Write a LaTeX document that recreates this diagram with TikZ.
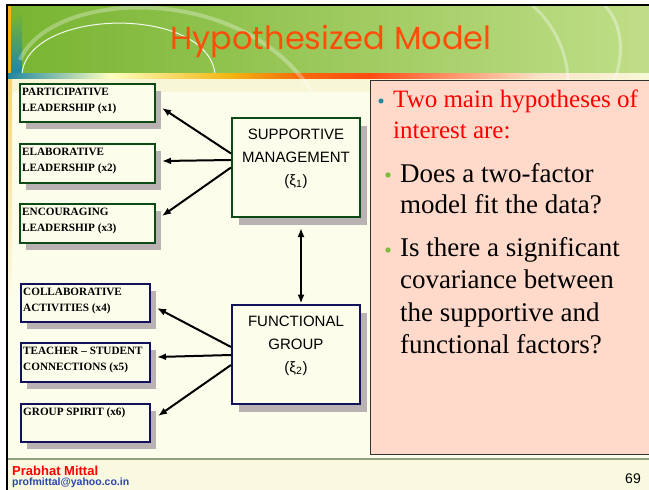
\documentclass[tikz,border=0pt]{standalone}
\usepackage{fontspec}
\setmainfont{Liberation Serif}
\newfontfamily\titlefont{Poppins}
\newfontfamily\sansfont{Liberation Sans}
\usetikzlibrary{arrows.meta,shadows}
\definecolor{bgcream}{HTML}{FDFDEB}
\definecolor{bandcream}{HTML}{F7F7D8}
\definecolor{titleL}{HTML}{78B431}
\definecolor{titleR}{HTML}{C0DE88}
\definecolor{tealc}{HTML}{2088A0}
\definecolor{goldc}{HTML}{F2B512}
\definecolor{orangec}{HTML}{F56A0C}
\definecolor{redc}{HTML}{FF4A14}
\definecolor{peachc}{HTML}{FBE3C8}
\definecolor{titlered}{HTML}{FF4E0A}
\definecolor{supgreen}{HTML}{0E4A16}
\definecolor{funnavy}{HTML}{12125A}
\definecolor{shadowc}{HTML}{BAB2B2}
\definecolor{pinkc}{HTML}{FFDACB}
\definecolor{bulgreen}{HTML}{7DBD3C}
\definecolor{mailblue}{HTML}{2B45A8}
\definecolor{footline}{HTML}{8FA37A}
\begin{document}
\begin{tikzpicture}[x=1pt,y=-1pt,>={Latex[length=9pt,width=7pt]},
  ind/.style={draw=#1, line width=2pt, fill=bgcream, anchor=north west, drop shadow={shadow xshift=6pt, shadow yshift=-7pt, fill=shadowc, opacity=1}},
  indtext/.style={anchor=north west, align=left, inner sep=3pt, yshift=-2pt, font=\fontsize{11.2}{16}\selectfont\bfseries},
  latent/.style={draw=#1, line width=2pt, fill=bgcream, minimum width=128pt, minimum height=99pt, drop shadow={shadow xshift=7pt, shadow yshift=-8pt, fill=shadowc, opacity=1}},
  lattext/.style={anchor=north, align=center, yshift=-12pt, inner sep=0pt, font=\sansfont\fontsize{15}{23}\selectfont},
  loading/.style={->, line width=2pt},
  para/.style={anchor=north west, align=left, inner sep=0pt}]
\useasboundingbox (0,0) rectangle (649,490);
\fill[white] (0,0) rectangle (649,490);
\fill[bgcream] (8,6) rectangle (649,490);
\fill[bandcream] (8,78) rectangle (649,92);
\shade[left color=titleL, right color=titleR] (8,6) rectangle (649,73);
\shade[top color=titleL, bottom color=tealc] (11,13) rectangle (22,73);
\fill[goldc] (8,6) rectangle (11,73);
\shade[top color=goldc!60, bottom color=bgcream] (8,78) rectangle (12,300);
\shade[left color=tealc, right color=yellow!25] (8,73) rectangle (110,78);
\shade[left color=yellow!25, right color=goldc] (110,73) rectangle (230,78);
\shade[left color=goldc, right color=orangec] (230,73) rectangle (300,78);
\shade[left color=orangec, right color=redc] (300,73) rectangle (370,78);
\shade[left color=redc, right color=peachc] (370,73) rectangle (540,78);
\shade[left color=peachc, right color=bandcream] (540,73) rectangle (649,78);
\draw[white, line width=1pt, opacity=.9] (22,73) .. controls (30,8) and (205,5) .. (215,73);
\draw[white, line width=4pt, opacity=.3] (20,60) .. controls (50,-10) and (240,-20) .. (312,92);
\draw[white, line width=3pt, opacity=.35] (533,6) .. controls (555,25) and (568,55) .. (568,82);
\draw[white, line width=3pt, opacity=.35] (605,6) .. controls (624,25) and (624,60) .. (613,82);
\fill[bandcream!60!bgcream] (8,459) rectangle (649,490);
\draw[footline, line width=1.5pt] (8,459) -- (649,459);
\draw[black, line width=2pt] (7,490) -- (7,5) -- (649,5);

\node[text=titlered, font=\titlefont\fontsize{32}{36}\selectfont] (title) at (331,41) {Hypothesized Model};

\node[draw=black!80, line width=.8pt, fill=pinkc, anchor=north west, minimum width=290pt, minimum height=374pt, inner sep=0pt] (hyp) at (370,80) {};
\fill[tealc] (381,101) circle (2.5pt);
\fill[bulgreen] (388,175) circle (2.7pt);
\fill[bulgreen] (388,250) circle (2.7pt);
\node[para, text=red, font=\fontsize{25}{31}\selectfont] (q0) at (393,90) {Two main hypotheses of\\interest are:};
\node[para, font=\fontsize{27}{31.5}\selectfont] (q1) at (400,163) {Does a two-factor\\model fit the data?};
\node[para, font=\fontsize{27}{32.5}\selectfont] (q2) at (400,237) {Is there a significant\\covariance between\\the supportive and\\functional factors?};

\node[ind=supgreen, minimum width=135pt, minimum height=38pt, label={[indtext]north west:PARTICIPATIVE\\LEADERSHIP (x1)}] (x1) at (19,83) {};
\node[ind=supgreen, minimum width=135pt, minimum height=39pt, label={[indtext]north west:ELABORATIVE\\LEADERSHIP (x2)}] (x2) at (19,143) {};
\node[ind=supgreen, minimum width=135pt, minimum height=39pt, label={[indtext]north west:ENCOURAGING\\LEADERSHIP (x3)}] (x3) at (19,203) {};
\node[ind=funnavy, minimum width=129pt, minimum height=38pt, label={[indtext]north west:COLLABORATIVE\\ACTIVITIES (x4)}] (x4) at (20,283) {};
\node[ind=funnavy, minimum width=129pt, minimum height=39pt, label={[indtext]north west:TEACHER -- STUDENT\\CONNECTIONS (x5)}] (x5) at (20,342) {};
\node[ind=funnavy, minimum width=129pt, minimum height=38pt, label={[indtext]north west:GROUP SPIRIT (x6)}] (x6) at (20,403) {};

\node[latent=supgreen, label={[lattext]north:SUPPORTIVE\\MANAGEMENT\\(ξ\textsubscript{1})}] (sm) at (296,167.5) {};
\node[latent=funnavy, label={[lattext]north:FUNCTIONAL\\GROUP\\(ξ\textsubscript{2})}] (fg) at (296,354) {};

\draw[loading] ([yshift=14pt]sm.west) -- ([shift={(6,5)}]x1.east);
\draw[loading] ([yshift=7.5pt]sm.west) -- ([shift={(6,-2.5)}]x2.east);
\draw[loading] (sm.west) -- ([shift={(6,-7.5)}]x3.east);
\draw[loading] ([yshift=7pt]fg.west) -- ([shift={(6,5)}]x4.east);
\draw[loading] ([yshift=-1pt]fg.west) -- ([shift={(6,-5.5)}]x5.east);
\draw[loading] ([yshift=-11pt]fg.west) -- ([shift={(7,-7)}]x6.east);
\draw[<->, line width=2pt] ([shift={(5,10)}]sm.south) -- ([xshift=5pt]fg.north);

\node[anchor=west, text=red, font=\sansfont\bfseries\fontsize{13}{15}\selectfont, inner sep=0pt] (auth) at (12,471) {Prabhat Mittal};
\node[anchor=west, text=mailblue, font=\sansfont\bfseries\fontsize{10.5}{12}\selectfont, inner sep=0pt] (mail) at (12,483) {profmittal@yahoo.co.in};
\node[font=\sansfont\fontsize{14}{16}\selectfont, inner sep=0pt] (pg) at (633,479) {69};
\end{tikzpicture}
\end{document}
